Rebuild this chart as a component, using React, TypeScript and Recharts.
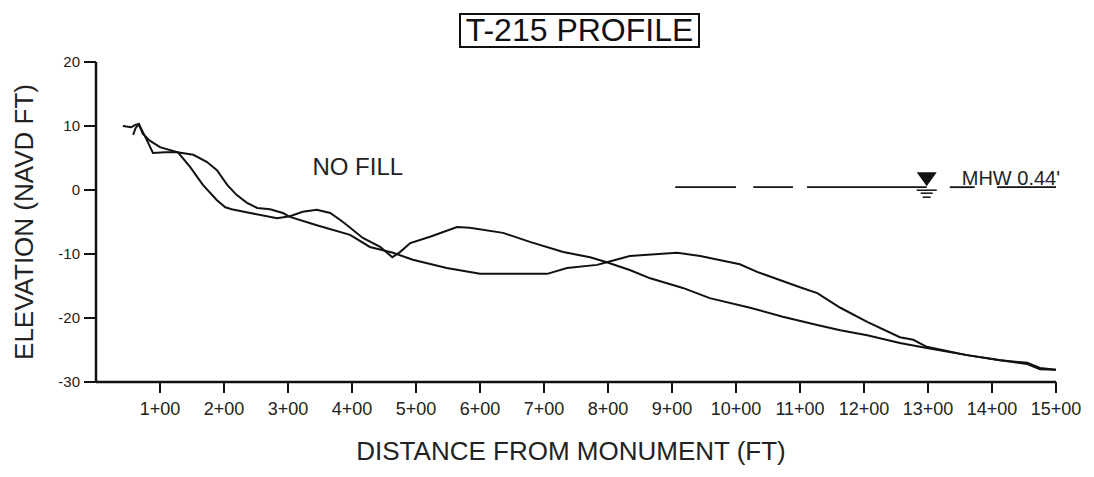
import { LineChart, Line, XAxis, YAxis, ReferenceLine, ReferenceDot, Label } from 'recharts'

const FONT = '"Liberation Sans", Arial, Helvetica, sans-serif'
const INK = '#111'
const TEXT = '#222'

// survey profile that drops off the dune first
const profileA = [
  { x: 42, y: 10.0 }, { x: 55, y: 9.8 }, { x: 62, y: 10.2 }, { x: 67, y: 10.3 },
  { x: 77, y: 8.3 }, { x: 89, y: 5.8 }, { x: 108, y: 5.9 }, { x: 128, y: 5.9 },
  { x: 147, y: 3.6 }, { x: 167, y: 0.8 }, { x: 189, y: -1.6 }, { x: 202, y: -2.7 },
  { x: 212, y: -3.0 }, { x: 241, y: -3.6 }, { x: 283, y: -4.4 }, { x: 303, y: -4.1 },
  { x: 323, y: -3.4 }, { x: 345, y: -3.1 }, { x: 366, y: -3.6 }, { x: 386, y: -5.0 },
  { x: 417, y: -7.5 }, { x: 444, y: -8.9 }, { x: 463, y: -10.5 }, { x: 475, y: -9.7 },
  { x: 491, y: -8.3 }, { x: 522, y: -7.3 }, { x: 564, y: -5.8 }, { x: 584, y: -5.9 },
  { x: 636, y: -6.7 }, { x: 678, y: -8.1 }, { x: 730, y: -9.7 }, { x: 772, y: -10.5 },
  { x: 798, y: -11.3 }, { x: 834, y: -12.5 }, { x: 866, y: -13.8 }, { x: 917, y: -15.3 },
  { x: 959, y: -16.9 }, { x: 1022, y: -18.4 }, { x: 1073, y: -19.8 }, { x: 1127, y: -21.1 },
  { x: 1163, y: -21.9 }, { x: 1205, y: -22.7 }, { x: 1256, y: -23.9 }, { x: 1298, y: -24.7 },
  { x: 1361, y: -25.8 }, { x: 1413, y: -26.6 }, { x: 1455, y: -27.0 }, { x: 1475, y: -27.8 },
  { x: 1500, y: -28.1 },
]

// second profile, with the offshore bar near 9+00
const profileB = [
  { x: 58, y: 8.6 }, { x: 62, y: 9.7 }, { x: 67, y: 10.3 }, { x: 73, y: 8.8 },
  { x: 84, y: 7.7 }, { x: 100, y: 6.7 }, { x: 127, y: 5.9 }, { x: 152, y: 5.5 },
  { x: 173, y: 4.4 }, { x: 189, y: 3.1 }, { x: 205, y: 0.8 }, { x: 220, y: -0.8 },
  { x: 236, y: -2.0 }, { x: 252, y: -2.8 }, { x: 272, y: -3.0 }, { x: 292, y: -3.6 },
  { x: 303, y: -4.2 }, { x: 345, y: -5.5 }, { x: 397, y: -7.0 }, { x: 428, y: -8.9 },
  { x: 464, y: -9.8 }, { x: 495, y: -10.9 }, { x: 548, y: -12.2 }, { x: 600, y: -13.1 },
  { x: 705, y: -13.1 }, { x: 736, y: -12.2 }, { x: 783, y: -11.7 }, { x: 798, y: -11.3 },
  { x: 834, y: -10.3 }, { x: 908, y: -9.8 }, { x: 944, y: -10.3 }, { x: 1006, y: -11.6 },
  { x: 1033, y: -12.8 }, { x: 1100, y: -15.2 }, { x: 1127, y: -16.1 }, { x: 1163, y: -18.4 },
  { x: 1205, y: -20.6 }, { x: 1256, y: -23.0 }, { x: 1277, y: -23.4 }, { x: 1298, y: -24.5 },
  { x: 1361, y: -25.8 }, { x: 1413, y: -26.6 }, { x: 1455, y: -27.2 }, { x: 1475, y: -28.0 },
  { x: 1500, y: -28.1 },
]

const xTicks = [100, 200, 300, 400, 500, 600, 700, 800, 900, 1000, 1100, 1200, 1300, 1400, 1500]
const yTicks = [-30, -20, -10, 0, 10, 20]

const MHW = 0.44
const mhwLabel = "MHW 0.44'"
// broken pieces of the MHW line as scanned (ft)
const mhwPieces: [number, number][] = [
  [905, 1000], [1027, 1089], [1111, 1298], [1334, 1373], [1408, 1500],
]
const tideMarkX = 1298
const noFill = { x: 409, y: 2.3, text: 'NO FILL' }

const stationLabel = (v: number) => `${v / 100}+00`

function TideMark(props: any) {
  const { cx, cy } = props
  return (
    <g>
      <polygon points={`${cx - 10},${cy - 15} ${cx + 10},${cy - 15} ${cx},${cy - 1}`} fill={INK} />
      <line x1={cx - 10} x2={cx + 10} y1={cy + 3} y2={cy + 3} stroke={INK} strokeWidth={1.5} />
      <line x1={cx - 6} x2={cx + 6} y1={cy + 6} y2={cy + 6} stroke={INK} strokeWidth={1.5} />
      <line x1={cx - 4} x2={cx + 4} y1={cy + 10} y2={cy + 10} stroke={INK} strokeWidth={1.5} />
      <text x={cx + 35} y={cy - 2} fontSize={20} fontFamily={FONT} fill={TEXT}>
        {mhwLabel}
      </text>
    </g>
  )
}

function NoteText(props: any) {
  const { cx, cy } = props
  return (
    <text x={cx} y={cy} textAnchor="middle" fontSize={24} fontFamily={FONT} fill={TEXT}>
      {noFill.text}
    </text>
  )
}

export default function App() {
  return (
    <div
      style={{
        position: 'absolute',
        left: 0,
        top: 0,
        width: 1094,
        height: 477,
        background: '#fff',
        fontFamily: FONT,
      }}
    >
      <div
        style={{
          position: 'absolute',
          left: 459,
          top: 13,
          width: 241,
          height: 35,
          boxSizing: 'border-box',
          border: `2px solid ${INK}`,
          fontSize: 32,
          lineHeight: '31px',
          textAlign: 'center',
          color: INK,
          whiteSpace: 'nowrap',
        }}
      >
        T-215 PROFILE
      </div>
      <LineChart
        width={1094}
        height={477}
        margin={{ top: 62, right: 38, left: 0, bottom: 0 }}
      >
        <XAxis
          dataKey="x"
          type="number"
          domain={[0, 1500]}
          ticks={xTicks}
          tickFormatter={stationLabel}
          allowDataOverflow
          height={95}
          tickSize={11}
          tickMargin={9}
          axisLine={{ stroke: INK, strokeWidth: 2.5 }}
          tickLine={{ stroke: INK, strokeWidth: 2 }}
          tick={{ fontSize: 18, fill: TEXT, fontFamily: FONT }}
        >
          <Label
            value="DISTANCE FROM MONUMENT (FT)"
            position="insideBottom"
            offset={17}
            dx={-5}
            style={{ fontSize: 26, fill: TEXT, fontFamily: FONT }}
          />
        </XAxis>
        <YAxis
          type="number"
          domain={[-30, 20]}
          ticks={yTicks}
          width={96}
          tickSize={12}
          tickMargin={4}
          axisLine={{ stroke: INK, strokeWidth: 2.5 }}
          tickLine={{ stroke: INK, strokeWidth: 2 }}
          tick={{ fontSize: 15, fill: TEXT, fontFamily: FONT }}
        >
          <Label
            value="ELEVATION (NAVD FT)"
            angle={-90}
            position="insideLeft"
            offset={24}
            style={{ fontSize: 26, fill: TEXT, fontFamily: FONT, textAnchor: 'middle' }}
          />
        </YAxis>
        {mhwPieces.map(([a, b], i) => (
          <ReferenceLine
            key={i}
            segment={[{ x: a, y: MHW }, { x: b, y: MHW }]}
            stroke={INK}
            strokeWidth={1.8}
          />
        ))}
        <ReferenceDot x={tideMarkX} y={MHW} shape={TideMark} />
        <ReferenceDot x={noFill.x} y={noFill.y} shape={NoteText} />
        <Line
          data={profileA}
          dataKey="y"
          type="linear"
          dot={false}
          stroke={INK}
          strokeWidth={2}
          isAnimationActive={false}
        />
        <Line
          data={profileB}
          dataKey="y"
          type="linear"
          dot={false}
          stroke={INK}
          strokeWidth={2}
          isAnimationActive={false}
        />
      </LineChart>
    </div>
  )
}
